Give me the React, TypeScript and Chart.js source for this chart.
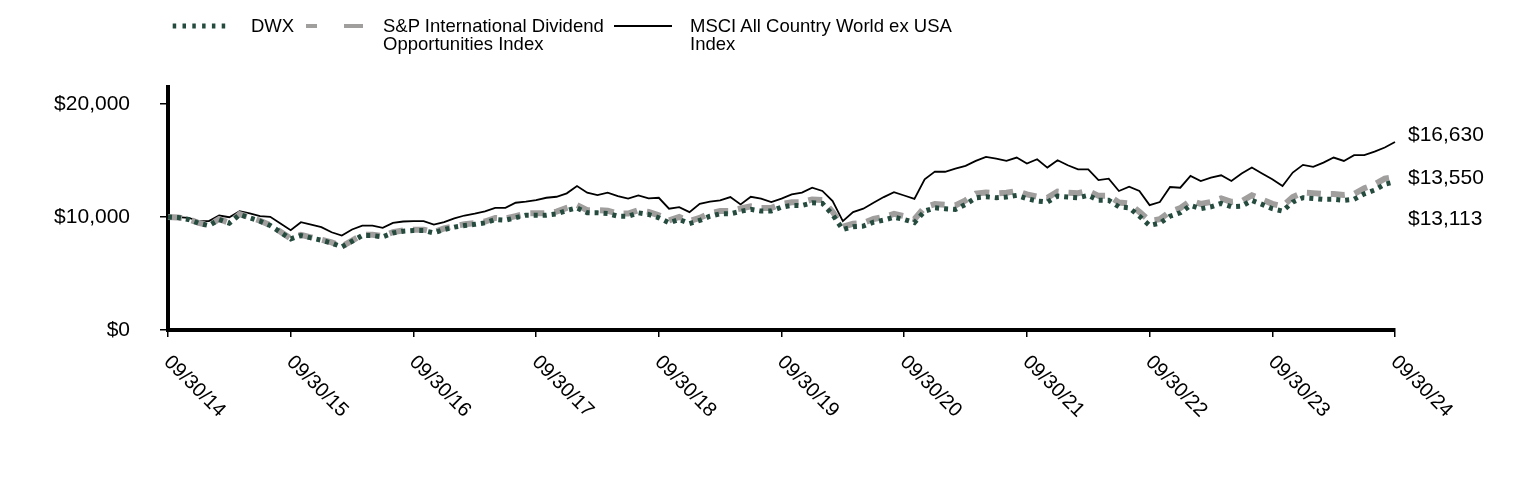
import React, { useEffect, useRef } from "react";
import { Chart, registerables } from "chart.js";

Chart.register(...registerables);

// Yearly tick labels (every 12 months)
const tickLabels = [
  "09/30/14", "09/30/15", "09/30/16", "09/30/17", "09/30/18", "09/30/19",
  "09/30/20", "09/30/21", "09/30/22", "09/30/23", "09/30/24",
];

// Month labels Sep 2014 .. Sep 2024 (121 month-ends)
const monthLabels: string[] = [];
for (let i = 0; i <= 120; i++) {
  const m = (8 + i) % 12;
  const y = 2014 + Math.floor((8 + i) / 12);
  monthLabels.push(`${String(m + 1).padStart(2, "0")}/${String(y).slice(2)}`);
}

const dwx = [
  10000, 9950, 9780, 9450, 9240, 9780, 9450, 10220, 9930, 9630, 9240, 8650,
  8060, 8360, 8150, 7940, 7700, 7350, 7850, 8360, 8360, 8240, 8590, 8740,
  8800, 8800, 8590, 8890, 9100, 9240, 9350, 9480, 9780, 9720, 9930, 10160,
  10160, 10160, 10280, 10580, 10810, 10370, 10370, 10310, 10070, 10070, 10370, 10220,
  9930, 9480, 9780, 9420, 9690, 10070, 10280, 10280, 10500, 10670, 10520, 10520,
  10870, 11020, 11020, 11260, 11200, 10200, 8890, 9130, 9190, 9540, 9720, 9980,
  9780, 9500, 10520, 10810, 10730, 10670, 11110, 11700, 11790, 11700, 11760, 11910,
  11620, 11410, 11320, 11850, 11760, 11700, 11910, 11470, 11470, 10900, 10810, 10070,
  9250, 9450, 10070, 10370, 11020, 10730, 10900, 11200, 10900, 10950, 11470, 11110,
  10730, 10520, 11320, 11700, 11640, 11560, 11560, 11470, 11560, 12050, 12380, 12890,
  13113,
];

const spIntlDiv = [
  10000, 9960, 9800, 9470, 9270, 9820, 9480, 10260, 9970, 9670, 9280, 8690,
  8100, 8410, 8200, 7990, 7750, 7400, 7910, 8420, 8420, 8310, 8660, 8810,
  8880, 8880, 8670, 8980, 9200, 9350, 9460, 9600, 9910, 9860, 10080, 10320,
  10330, 10340, 10470, 10800, 11050, 10600, 10600, 10550, 10300, 10300, 10600, 10450,
  10150, 9700, 10000, 9650, 9920, 10320, 10530, 10530, 10750, 10950, 10800, 10800,
  11150, 11300, 11300, 11550, 11500, 10450, 9150, 9400, 9470, 9820, 10000, 10270,
  10070, 9800, 10850, 11140, 11070, 11020, 11470, 12070, 12160, 12080, 12140, 12300,
  12000, 11800, 11700, 12240, 12150, 12100, 12310, 11870, 11870, 11280, 11200, 10450,
  9650, 9800, 10470, 10780, 11440, 11150, 11330, 11640, 11330, 11390, 11920, 11550,
  11160, 10950, 11770, 12160, 12110, 12030, 12030, 11950, 12040, 12540, 12880, 13400,
  13550,
];

const msciAcwiExUs = [
  10000, 9980, 9930, 9630, 9630, 10130, 9980, 10500, 10310, 10070, 10010, 9420,
  8830, 9540, 9330, 9100, 8650, 8360, 8890, 9240, 9240, 9040, 9480, 9600,
  9630, 9630, 9330, 9540, 9870, 10130, 10300, 10500, 10810, 10810, 11260, 11350,
  11500, 11700, 11790, 12090, 12740, 12150, 11940, 12150, 11850, 11620, 11910, 11640,
  11700, 10730, 10870, 10430, 11170, 11350, 11470, 11760, 11110, 11790, 11620, 11320,
  11620, 12000, 12150, 12590, 12300, 11410, 9630, 10430, 10730, 11260, 11760, 12200,
  11900, 11600, 13330, 14010, 14000, 14280, 14520, 14960, 15320, 15170, 14960, 15260,
  14730, 15110, 14370, 15020, 14580, 14220, 14220, 13270, 13390, 12300, 12680, 12300,
  11050, 11320, 12650, 12590, 13630, 13180, 13480, 13690, 13180, 13840, 14370, 13840,
  13330, 12740, 13930, 14610, 14430, 14810, 15260, 14960, 15470, 15470, 15790, 16150,
  16630,
];

const seriesNames = ["DWX", "S&P International Dividend Opportunities Index", "MSCI All Country World ex USA Index"];
const endLabels = ["$13,113", "$13,550", "$16,630"];
const yTickValues = [0, 10000, 20000];

const FONT = "Arial, 'Liberation Sans', sans-serif";
const GREEN = "#254B3F";
const GREY = "#A19E9E";

const labelsPlugin = {
  id: "customLabels",
  afterDraw(chart: any) {
    const { ctx, chartArea } = chart;
    const xs = chart.scales.x;
    const ys = chart.scales.y;
    ctx.save();
    ctx.fillStyle = "#000";
    // x tick labels rotated 45deg clockwise
    ctx.font = `20px ${FONT}`;
    ctx.textAlign = "left";
    ctx.textBaseline = "middle";
    xs.ticks.forEach((t: any, i: number) => {
      const px = xs.getPixelForValue(t.value);
      ctx.save();
      ctx.translate(px - 1, chartArea.bottom + 29);
      ctx.rotate(Math.PI / 4);
      ctx.fillText(tickLabels[i], 0, 0);
      ctx.restore();
    });
    // end value labels
    ctx.font = `21px ${FONT}`;
    const data = [dwx, spIntlDiv, msciAcwiExUs];
    const offsets = [37, 1, -7];
    data.forEach((arr, i) => {
      const py = ys.getPixelForValue(arr[arr.length - 1]);
      ctx.fillText(endLabels[i], chartArea.right + 13, py + offsets[i]);
    });
    ctx.restore();
  },
};

function LegendSample({ kind }: { kind: string }) {
  if (kind === "dwx") {
    return (
      <svg width={58} height={10} style={{ position: "absolute", left: 0, top: 21 }}>
        <line x1={2.7} y1={5} x2={58} y2={5} stroke={GREEN} strokeWidth={5} strokeDasharray="3.5 6.3" />
      </svg>
    );
  }
  if (kind === "sp") {
    return (
      <svg width={64} height={10} style={{ position: "absolute", left: 0, top: 21 }}>
        <rect x={4} y={3} width={11} height={4} fill={GREY} />
        <rect x={42} y={3} width={19} height={4} fill={GREY} />
      </svg>
    );
  }
  return (
    <svg width={58} height={10} style={{ position: "absolute", left: 0, top: 21 }}>
      <line x1={0} y1={5} x2={58} y2={5} stroke="#000" strokeWidth={2} />
    </svg>
  );
}

export default function App() {
  const canvasRef = useRef<HTMLCanvasElement | null>(null);

  useEffect(() => {
    if (!canvasRef.current) return;
    const chart = new Chart(canvasRef.current, {
      type: "line",
      data: {
        labels: monthLabels,
        datasets: [
          {
            label: seriesNames[0],
            data: dwx,
            borderColor: GREEN,
            borderWidth: 5,
            borderDash: [4, 5],
            pointRadius: 0,
            tension: 0,
            fill: false,
          },
          {
            label: seriesNames[1],
            data: spIntlDiv,
            borderColor: GREY,
            borderWidth: 6,
            borderDash: [14, 10],
            pointRadius: 0,
            tension: 0,
            fill: false,
          },
          {
            label: seriesNames[2],
            data: msciAcwiExUs,
            borderColor: "#000",
            borderWidth: 1.8,
            pointRadius: 0,
            tension: 0,
            fill: false,
          },
        ],
      },
      options: {
        animation: false,
        responsive: true,
        maintainAspectRatio: false,
        devicePixelRatio: 1,
        layout: { padding: { left: 0, right: 129, top: 87, bottom: 0 } },
        plugins: {
          legend: { display: false },
          tooltip: { enabled: false },
          title: { display: false },
        },
        scales: {
          x: {
            type: "category",
            offset: false,
            border: { display: true, color: "#000", width: 4 },
            grid: {
              drawOnChartArea: false,
              drawTicks: true,
              tickLength: 7,
              color: "#000",
              lineWidth: 1.5,
            },
            ticks: { display: false, autoSkip: false },
            afterBuildTicks(scale: any) {
              scale.ticks = scale.ticks.filter((t: any) => t.value % 12 === 0);
            },
            afterFit(scale: any) {
              scale.height = 150;
            },
          },
          y: {
            min: 0,
            max: 21500,
            border: { display: true, color: "#000", width: 4 },
            grid: {
              drawOnChartArea: false,
              drawTicks: true,
              tickLength: 8,
              color: "#000",
              lineWidth: 1.5,
            },
            ticks: {
              color: "#000",
              padding: 30,
              font: { family: FONT, size: 21 },
              callback: (v: any) => "$" + Number(v).toLocaleString("en-US"),
            },
            afterBuildTicks(scale: any) {
              scale.ticks = yTickValues.map((v) => ({ value: v }));
            },
            afterFit(scale: any) {
              scale.width = 168;
            },
          },
        },
      },
      plugins: [labelsPlugin],
    });
    return () => chart.destroy();
  }, []);

  const textStyle: React.CSSProperties = {
    position: "absolute",
    top: 17,
    fontFamily: FONT,
    fontSize: 18.5,
    lineHeight: "18px",
    color: "#000",
    whiteSpace: "nowrap",
  };

  return (
    <div style={{ position: "fixed", left: 0, top: 0, width: 1524, height: 480, background: "#fff" }}>
      <canvas ref={canvasRef} />
      <div style={{ position: "absolute", left: 170, top: 0 }}>
        <LegendSample kind="dwx" />
      </div>
      <div style={{ ...textStyle, left: 251 }}>{seriesNames[0]}</div>
      <div style={{ position: "absolute", left: 302, top: 0 }}>
        <LegendSample kind="sp" />
      </div>
      <div style={{ ...textStyle, left: 383 }}>
        S&amp;P International Dividend
        <br />
        Opportunities Index
      </div>
      <div style={{ position: "absolute", left: 614, top: 0 }}>
        <LegendSample kind="msci" />
      </div>
      <div style={{ ...textStyle, left: 690 }}>
        MSCI All Country World ex USA
        <br />
        Index
      </div>
    </div>
  );
}
